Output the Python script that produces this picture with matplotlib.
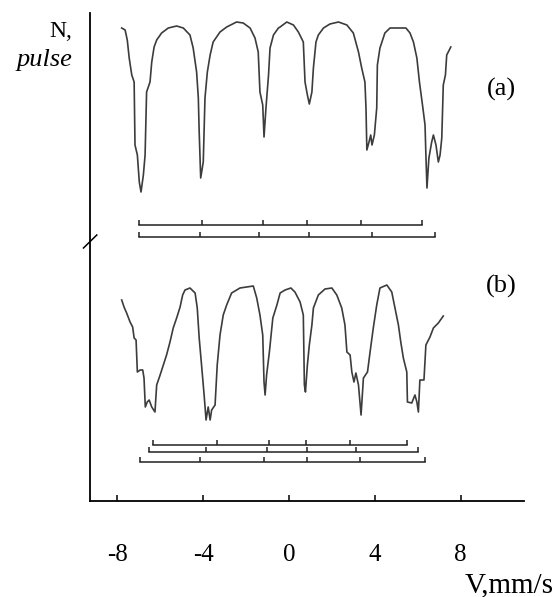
import matplotlib.pyplot as plt

# spectrum (a): velocity (mm/s) and counts (arb. units)
va = [-7.79, -7.63, -7.53, -7.44, -7.32, -7.21, -7.17, -7.06, -6.97, -6.89, -6.78, -6.70,
      -6.63, -6.47, -6.39, -6.28, -6.16, -5.93, -5.62, -5.23, -4.92, -4.61, -4.46, -4.30,
      -4.22, -4.18, -4.11, -3.99, -3.91, -3.80, -3.67, -3.53, -3.21, -2.90, -2.44, -2.13,
      -1.81, -1.58, -1.43, -1.35, -1.22, -1.16, -1.07, -0.95, -0.88, -0.72, -0.49, -0.41, -0.10,
      0.21, 0.44, 0.67, 0.75, 0.86, 0.95, 1.07, 1.14, 1.26, 1.37, 1.61, 1.91, 2.31, 2.70,
      3.00, 3.24, 3.39, 3.54, 3.59, 3.63, 3.73, 3.81, 3.87, 3.98, 4.09, 4.12, 4.24, 4.47,
      4.71, 5.17, 5.45, 5.64, 5.80, 5.96, 6.08, 6.24, 6.34, 6.38, 6.43, 6.52, 6.65, 6.73,
      6.85, 6.96, 7.04, 7.12, 7.19, 7.29, 7.35, 7.47, 7.54]
na = [473, 471, 461, 443, 426, 419, 356, 346, 319, 309, 326, 346,
      409, 419, 439, 454, 461, 468, 473, 475, 473, 466, 453, 429,
      403, 369, 323, 339, 403, 429, 446, 459, 469, 474, 479, 478,
      473, 463, 449, 409, 396, 364, 393, 426, 453, 466, 473, 474, 479,
      476, 469, 459, 419, 406, 397, 409, 433, 459, 466, 473, 477, 479, 476,
      468, 449, 433, 419, 393, 351, 359, 366, 356, 366, 393, 436, 453, 468,
      473, 473, 473, 468, 459, 443, 419, 393, 376, 346, 313, 343, 359, 366,
      356, 339, 346, 363, 416, 426, 446, 451, 454]

# spectrum (b)
vb = [-7.79, -7.68, -7.56, -7.40, -7.28, -7.21, -7.12, -7.06, -6.93, -6.81, -6.75, -6.69,
      -6.60, -6.51, -6.39, -6.24, -6.16, -6.00, -5.85, -5.70, -5.54, -5.39, -5.23, -5.07,
      -4.95, -4.84, -4.61, -4.37, -4.27, -4.18, -4.07, -3.95, -3.86, -3.76, -3.67, -3.60,
      -3.44, -3.34, -3.21, -3.06, -2.90, -2.67, -2.28, -1.66, -1.50, -1.35, -1.22, -1.16,
      -1.11, -1.04, -0.91, -0.75, -0.56, -0.41, -0.18, 0.09, 0.28, 0.52, 0.67, 0.72, 0.77, 0.86,
      0.95, 1.07, 1.14, 1.37, 1.68, 2.00, 2.23, 2.46, 2.61, 2.70, 2.85, 2.93, 3.03, 3.12,
      3.24, 3.36, 3.47, 3.66, 3.78, 3.93, 4.09, 4.24, 4.56, 4.79, 4.94, 5.10, 5.21, 5.33,
      5.49, 5.52, 5.72, 5.87, 5.96, 6.03, 6.10, 6.29, 6.38, 6.57, 6.73, 6.96, 7.19]
nb = [201, 194, 188, 179, 174, 163, 161, 129, 131, 131, 123, 94,
      99, 101, 94, 89, 116, 126, 136, 146, 159, 173, 183, 194,
      206, 211, 213, 208, 193, 163, 136, 106, 81, 94, 81, 91,
      96, 136, 166, 186, 196, 208, 213, 215, 203, 186, 166, 119,
      106, 126, 149, 183, 196, 208, 211, 213, 209, 199, 186, 116, 109, 136,
      156, 176, 193, 206, 212, 213, 206, 193, 176, 149, 146, 129, 119, 128,
      116, 86, 123, 129, 149, 173, 196, 213, 216, 209, 193, 176, 159, 143,
      129, 99, 98, 106, 99, 89, 121, 121, 156, 164, 173, 178, 185]

# line positions of the fitted sextets (mm/s)
sticks_a = [[-6.98, -4.05, -1.21, 0.84, 3.36, 6.20],
            [-6.98, -4.14, -1.39, 0.94, 3.87, 6.80]]
sticks_b = [[-6.31, -3.37, -0.95, 0.78, 2.85, 5.52],
            [-6.50, -3.88, -1.04, 0.86, 3.12, 6.03],
            [-6.93, -4.14, -1.16, 0.86, 3.31, 6.34]]
levels_a = [276, 264]
levels_b = [56, 49, 39]

xticks = [-8, -4, 0, 4, 8]

plt.rcParams['font.family'] = ['Liberation Serif', 'DejaVu Serif']

fig = plt.figure(figsize=(5.6, 5.97), dpi=100)
ax = fig.add_axes([89.7 / 560, 96 / 597, 434.3 / 560, 488 / 597])
ax.set_xlim(-9.28, 10.95)
ax.set_ylim(0, 488)

ax.plot(va, na, color='#3c3c3c', lw=1.2)
ax.plot(vb, nb, color='#3c3c3c', lw=1.2)

for rows, levels in [(sticks_a, levels_a), (sticks_b, levels_b)]:
    for pos, lvl in zip(rows, levels):
        ax.plot([pos[0], pos[-1]], [lvl, lvl], color='#202020', lw=1.1)
        ax.vlines(pos, lvl, lvl + 5, color='#202020', lw=1.1)

# axis break mark
ax.plot([-9.57, -8.95], [253, 266], color='black', lw=1.1, clip_on=False)

for s in ['top', 'right']:
    ax.spines[s].set_visible(False)
ax.spines['left'].set_linewidth(1.3)
ax.spines['bottom'].set_linewidth(1.3)
ax.set_yticks([])
ax.set_xticks(xticks)
ax.set_xticklabels([str(t) for t in xticks])
ax.tick_params(axis='x', direction='in', length=4, width=1.1, pad=31, labelsize=18)

ax.text(9.89, 412, '(a)', fontsize=19, ha='center', va='center')
ax.text(9.89, 215, '(b)', fontsize=19, ha='center', va='center')

fig.text(72 / 560, 1 - 37 / 597, 'N,', fontsize=17, ha='right', va='baseline')
fig.text(72 / 560, 1 - 66 / 597, 'pulse', fontsize=19, style='italic', ha='right', va='baseline')
fig.text(465 / 560, 5 / 597, 'V,mm/s', fontsize=21, ha='left', va='baseline')

fig.savefig('out.png', dpi=100)
